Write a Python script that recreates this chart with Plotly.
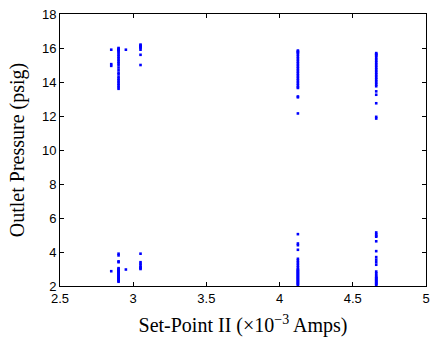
import plotly.graph_objects as go

# Set-point II columns (x10^-3 A) and observed outlet pressures (psig)
x_a = [2.85, 2.85, 2.85, 2.85]
y_a = [15.9, 15.05, 14.95, 2.87]

x_b = 2.90
y_b = [13.6, 13.7, 13.8, 13.9, 14.0, 14.1, 14.2, 14.3, 14.45, 14.55, 14.7, 14.85, 15.0,
       15.1, 15.2, 15.3, 15.4, 15.5, 15.6, 15.7, 15.8, 15.85, 15.9, 15.95, 16.0,
       3.9, 3.8, 3.45, 3.4, 3.05, 3.0, 2.95, 2.9, 2.85, 2.8, 2.75, 2.7, 2.65, 2.6, 2.55,
       2.5, 2.45, 2.4, 2.35, 2.3, 2.25]

x_c = 2.95
y_c = [15.9, 2.97]

x_d = 3.05
y_d = [16.2, 16.15, 16.1, 16.05, 16.0, 15.9, 15.6, 15.0, 3.9, 3.4, 3.3, 3.2, 3.1, 3.05, 3.0]

x_e = 4.125
y_e = [12.15, 13.1, 13.15, 13.65, 13.7, 13.8, 13.9, 14.0, 14.1, 14.2, 14.3, 14.4, 14.5,
       14.6, 14.7, 14.8, 14.9, 15.0, 15.1, 15.2, 15.3, 15.4, 15.5, 15.6, 15.7, 15.75, 15.8, 15.85,
       5.05, 4.5, 4.4, 4.13, 3.6, 3.5, 3.4, 3.3, 3.2, 3.1, 3.0, 2.95, 2.9, 2.85, 2.8, 2.75,
       2.7, 2.65, 2.6, 2.55, 2.5, 2.45, 2.4, 2.35, 2.3, 2.25, 2.2, 2.15, 2.1, 2.05]

x_f = 4.66
y_f = [11.85, 11.95, 12.75, 13.25, 13.45, 13.75, 13.85, 13.95, 14.05, 14.15, 14.25, 14.35,
       14.45, 14.55, 14.65, 14.75, 14.85, 14.95, 15.05, 15.15, 15.25, 15.35, 15.45, 15.55,
       15.6, 15.65, 15.7,
       5.15, 5.05, 4.95, 4.9, 4.63, 4.05, 3.7, 3.55, 3.4, 3.25, 2.85, 2.75, 2.65, 2.55,
       2.5, 2.45, 2.4, 2.35, 2.3, 2.25, 2.2, 2.15, 2.1, 2.05]

xs = x_a + [x_b] * len(y_b) + [x_c] * len(y_c) + [x_d] * len(y_d) + [x_e] * len(y_e) + [x_f] * len(y_f)
ys = y_a + y_b + y_c + y_d + y_e + y_f

x_ticks = [2.5, 3, 3.5, 4, 4.5, 5]
y_ticks = [2, 4, 6, 8, 10, 12, 14, 16, 18]

fig = go.Figure()
fig.add_trace(go.Scatter(x=xs, y=ys, mode="markers",
                         marker=dict(color="rgb(0,0,255)", size=2.6, symbol="square",
                                     line=dict(width=0)),
                         showlegend=False))

axis_common = dict(showgrid=False, zeroline=False, showline=True, linecolor="black",
                   linewidth=1, mirror="ticks", ticks="inside", ticklen=4,
                   tickcolor="black",
                   tickfont=dict(family="Liberation Sans, Arial", size=13, color="black"))

title_font = dict(family="Liberation Serif, Times New Roman", size=20, color="black")

fig.update_xaxes(range=[2.5, 5], tickvals=x_ticks, ticktext=[str(v) for v in x_ticks],
                 title=dict(text="Set-Point II (×10<sup>−3</sup> Amps)",
                            font=title_font, standoff=13),
                 **axis_common)
fig.update_yaxes(range=[2, 18], tickvals=y_ticks,
                 title=dict(text="Outlet Pressure (psig)", font=title_font, standoff=11),
                 **axis_common)

fig.update_layout(width=437, height=350, margin=dict(l=60, r=7, t=10, b=64),
                  plot_bgcolor="white", paper_bgcolor="white")

fig.write_html("out.html")
